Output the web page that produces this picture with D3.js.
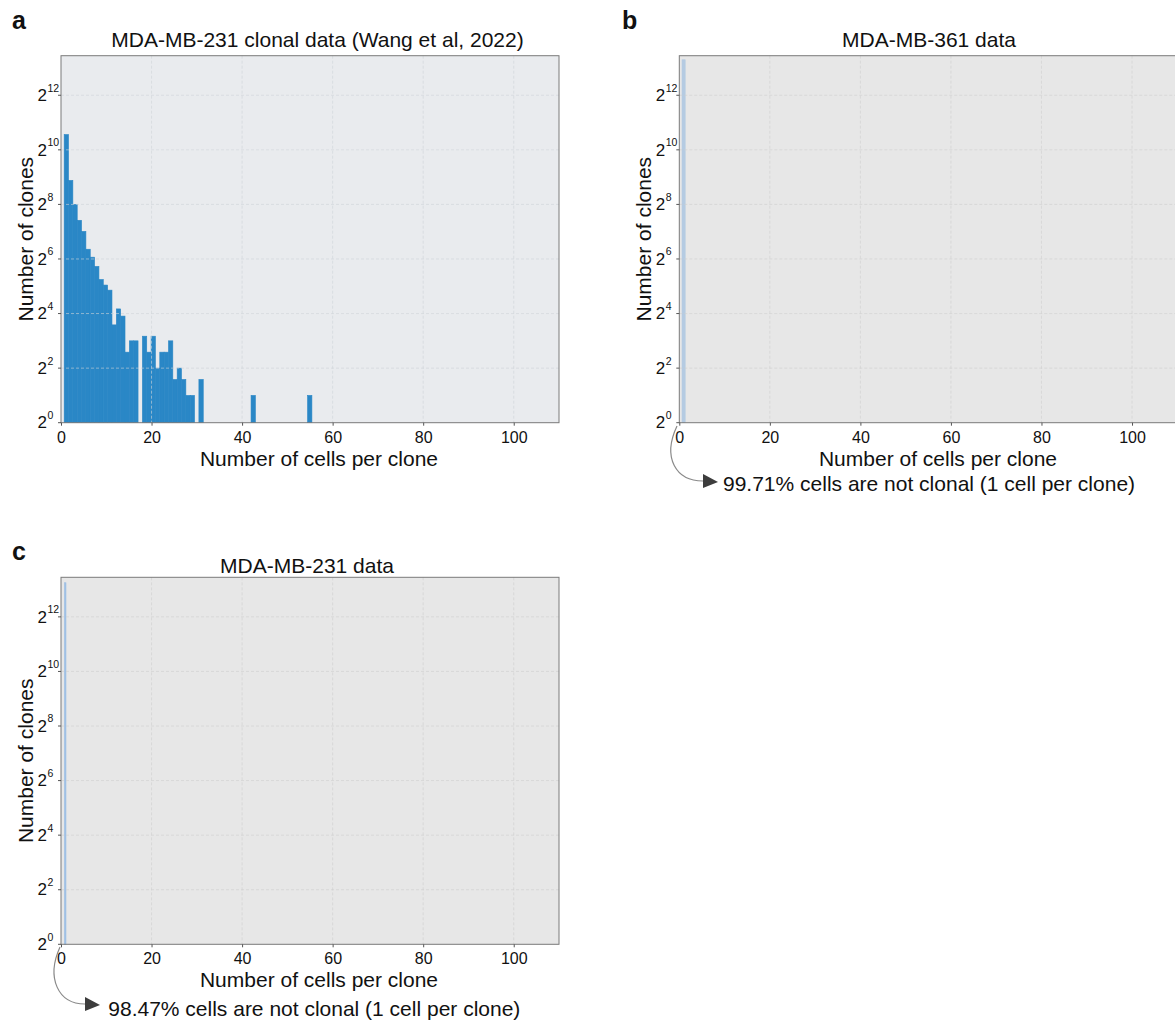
<!DOCTYPE html>
<html>
<head>
<meta charset="utf-8">
<script src="https://cdn.jsdelivr.net/npm/d3@7"></script>
<style>
    body { margin: 0; background: #fff; }
    text { font-family: "Liberation Sans", Arial, sans-serif; fill: #111; }
</style>
</head>
<body>
<script>
// panel a: histogram of clone sizes, one count per bin (bins start at 0.7, width 0.96)
const binStartA = 0.7;
const binWidthA = 0.96;
const countsA = [
    1510, 471, 256, 171, 129, 82, 67, 53, 38, 33,
    29, 12, 18, 15, 6, 8, 8, 0, 9, 6,
    9, 4, 6, 6, 8, 3, 4, 3, 2, 2,
    0, 3, 0, 0, 0, 0, 0, 0, 0, 0,
    0, 0, 0, 2, 0, 0, 0, 0, 0, 0,
    0, 0, 0, 0, 0, 0, 2
];

// panels b and c: a single bin around 1 cell per clone
const binsB = [[0.6, 1.3]];
const countsB = [10100];
const binsC = [[0.75, 1.1]];
const countsC = [9750];

const xTicks = [0, 20, 40, 60, 80, 100];
const yExponents = [0, 2, 4, 6, 8, 10, 12];

const titles = ['MDA-MB-231 clonal data (Wang et al, 2022)', 'MDA-MB-361 data', 'MDA-MB-231 data'];
const notes = ['99.71% cells are not clonal (1 cell per clone)', '98.47% cells are not clonal (1 cell per clone)'];

const svg = d3.select('body').append('svg')
    .attr('width', 1175)
    .attr('height', 1025);

function drawPanel(p) {
    const g = svg.append('g');
    const x = d3.scaleLinear().domain([0, 110]).range([p.left, p.left + 498]);
    const y = d3.scaleLog().base(2).domain([1, Math.pow(2, 13.45)]).range([p.bottom, p.bottom - 367]);
    const top = p.bottom - 367;

    g.append('rect')
        .attr('x', p.left).attr('y', top)
        .attr('width', 498).attr('height', 367)
        .attr('fill', p.bg);

    g.selectAll('rect.bar')
        .data(p.bars.filter(d => d.n >= 1))
        .enter().append('rect')
        .attr('class', 'bar')
        .attr('x', d => x(d.x0))
        .attr('width', d => x(d.x1) - x(d.x0))
        .attr('y', d => y(d.n))
        .attr('height', d => y(1) - y(d.n))
        .attr('fill', p.barColor)
        .attr('stroke', p.barColor)
        .attr('stroke-width', 0.6);

    // grid on top of bars
    g.selectAll('line.vgrid')
        .data(xTicks.slice(1))
        .enter().append('line')
        .attr('x1', d => x(d)).attr('x2', d => x(d))
        .attr('y1', top).attr('y2', p.bottom)
        .attr('stroke', p.grid).attr('stroke-opacity', 0.6)
        .attr('stroke-dasharray', '3,2');
    g.selectAll('line.hgrid')
        .data(yExponents.slice(1))
        .enter().append('line')
        .attr('x1', p.left).attr('x2', p.left + 498)
        .attr('y1', d => y(Math.pow(2, d))).attr('y2', d => y(Math.pow(2, d)))
        .attr('stroke', p.grid).attr('stroke-opacity', 0.6)
        .attr('stroke-dasharray', '3,2');

    g.append('rect')
        .attr('x', p.left).attr('y', top)
        .attr('width', 498).attr('height', 367)
        .attr('fill', 'none')
        .attr('stroke', '#7a7a7a');

    // x axis
    const xAxis = g.append('g')
        .attr('transform', `translate(0,${p.bottom})`)
        .call(d3.axisBottom(x).tickValues(xTicks).tickSize(3).tickPadding(5.5));
    xAxis.select('.domain').remove();
    xAxis.selectAll('line').attr('stroke', '#555');
    xAxis.selectAll('text')
        .attr('font-size', 16)
        .attr('font-family', '"Liberation Sans", Arial, sans-serif')
        .attr('fill', '#111');

    // y axis, labels written as powers of two
    g.selectAll('line.ytick')
        .data(yExponents)
        .enter().append('line')
        .attr('x1', p.left - 3).attr('x2', p.left)
        .attr('y1', d => y(Math.pow(2, d))).attr('y2', d => y(Math.pow(2, d)))
        .attr('stroke', '#555');
    const yl = g.selectAll('text.ylab')
        .data(yExponents)
        .enter().append('text')
        .attr('x', p.left - 23.5)
        .attr('y', d => y(Math.pow(2, d)) + 5.7);
    yl.append('tspan').attr('font-size', 17).text('2');
    yl.append('tspan').attr('font-size', 10.5).attr('dy', -9.3).attr('dx', 0.5).text(d => d);

    g.append('text')
        .attr('transform', `translate(${p.left - 28},${(top + p.bottom) / 2}) rotate(-90)`)
        .attr('text-anchor', 'middle')
        .attr('font-size', 21)
        .text('Number of clones');

    g.append('text')
        .attr('x', p.titleX).attr('y', p.titleY)
        .attr('text-anchor', 'middle')
        .attr('font-size', 21)
        .text(p.title);

    g.append('text')
        .attr('x', p.xLabelX).attr('y', p.bottom + 43)
        .attr('text-anchor', 'middle')
        .attr('font-size', 21)
        .text('Number of cells per clone');

    g.append('text')
        .attr('x', p.letterX).attr('y', p.letterY)
        .attr('font-size', 25)
        .attr('font-weight', 'bold')
        .text(p.letter);

    if (p.note) {
        const a = p.arrow;
        g.append('path')
            .attr('d', `M${a[0]},${a[1]} C${a[2]},${a[3]} ${a[4]},${a[5]} ${a[6]},${a[7]}`)
            .attr('fill', 'none')
            .attr('stroke', '#8a8a8a')
            .attr('stroke-width', 1.2);
        g.append('path')
            .attr('d', `M${a[6]},${a[7] - 7} L${a[6] + 15},${a[7] + 1} L${a[6]},${a[7] + 7} Z`)
            .attr('fill', '#3d3d3d');
        g.append('text')
            .attr('x', p.noteX).attr('y', p.noteY)
            .attr('font-size', 21)
            .text(p.note);
    }
}

(function () {
    const barsA = countsA.map((n, i) => ({
        x0: binStartA + i * binWidthA,
        x1: binStartA + (i + 1) * binWidthA,
        n: n
    }));
    drawPanel({
        left: 61, bottom: 422.7, bg: '#e9ebee', grid: '#cfd3d8', barColor: '#2a87c6',
        bars: barsA, title: titles[0], titleX: 317.5, titleY: 46.7,
        xLabelX: 319, letter: 'a', letterX: 12, letterY: 29
    });
}());

(function () {
    const barsB = binsB.map((b, i) => ({ x0: b[0], x1: b[1], n: countsB[i] }));
    drawPanel({
        left: 679.3, bottom: 422.7, bg: '#e7e7e7', grid: '#cfcfcf', barColor: '#b5cbe2',
        bars: barsB, title: titles[1], titleX: 929, titleY: 46.7,
        xLabelX: 938, letter: 'b', letterX: 622, letterY: 29,
        note: notes[0], noteX: 723, noteY: 491,
        arrow: [677, 426, 662, 458, 676, 481, 703, 481]
    });
}());

(function () {
    const barsC = binsC.map((b, i) => ({ x0: b[0], x1: b[1], n: countsC[i] }));
    drawPanel({
        left: 61, bottom: 944.3, bg: '#e7e7e7', grid: '#cfcfcf', barColor: '#9fc0e4',
        bars: barsC, title: titles[2], titleX: 307, titleY: 573.3,
        xLabelX: 319, letter: 'c', letterX: 12, letterY: 560,
        note: notes[1], noteX: 108.3, noteY: 1016,
        arrow: [60, 947, 46, 978, 58, 1004, 85, 1004]
    });
}());
</script>
</body>
</html>
